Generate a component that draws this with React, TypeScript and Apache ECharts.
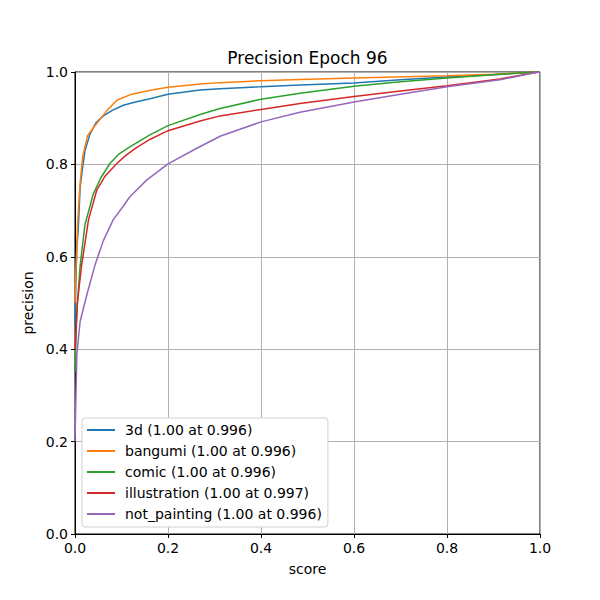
import React, { useEffect, useRef } from "react";
import * as echarts from "echarts";

const FONT = "DejaVu Sans";

const seriesNames = [
  "3d (1.00 at 0.996)",
  "bangumi (1.00 at 0.996)",
  "comic (1.00 at 0.996)",
  "illustration (1.00 at 0.997)",
  "not_painting (1.00 at 0.996)",
];
const colors = ["#1f77b4", "#ff7f0e", "#2ca02c", "#d62728", "#9467bd"];

const x3d = [0, 0.002, 0.004, 0.007, 0.011, 0.016, 0.0215, 0.032, 0.045, 0.061, 0.08, 0.104, 0.13, 0.161, 0.2, 0.269, 0.312, 0.4, 0.484, 0.6, 0.7, 0.8, 0.9, 0.996, 1];
const y3d = [0.45, 0.55, 0.62, 0.66, 0.75, 0.79, 0.83, 0.865, 0.89, 0.905, 0.917, 0.928, 0.935, 0.942, 0.952, 0.961, 0.964, 0.968, 0.972, 0.976, 0.983, 0.989, 0.994, 1.0, 1.0];

const xBangumi = [0, 0.002, 0.006, 0.011, 0.0165, 0.027, 0.04, 0.054, 0.07, 0.09, 0.122, 0.16, 0.2, 0.269, 0.312, 0.4, 0.484, 0.6, 0.8, 0.9, 0.996, 1];
const yBangumi = [0.5, 0.57, 0.68, 0.76, 0.817, 0.862, 0.88, 0.898, 0.918, 0.939, 0.952, 0.96, 0.967, 0.974, 0.977, 0.981, 0.984, 0.987, 0.992, 0.995, 1, 1];

const xComic = [0, 0.004, 0.011, 0.0215, 0.039, 0.055, 0.075, 0.095, 0.118, 0.161, 0.2, 0.269, 0.312, 0.4, 0.484, 0.6, 0.7, 0.8, 0.914, 0.996, 1];
const yComic = [0.35, 0.48, 0.58, 0.67, 0.735, 0.77, 0.802, 0.823, 0.838, 0.864, 0.884, 0.908, 0.921, 0.941, 0.954, 0.969, 0.979, 0.987, 0.995, 1, 1];

const xIllustration = [0, 0.005, 0.014, 0.029, 0.047, 0.065, 0.09, 0.11, 0.133, 0.161, 0.2, 0.269, 0.312, 0.4, 0.484, 0.6, 0.7, 0.8, 0.914, 0.997, 1];
const yIllustration = [0.4, 0.5, 0.58, 0.68, 0.745, 0.775, 0.802, 0.82, 0.837, 0.854, 0.873, 0.894, 0.905, 0.919, 0.932, 0.947, 0.959, 0.97, 0.985, 1, 1];

const xNotPainting = [0, 0.002, 0.004, 0.011, 0.026, 0.043, 0.061, 0.082, 0.104, 0.118, 0.154, 0.2, 0.262, 0.312, 0.4, 0.484, 0.6, 0.7, 0.8, 0.914, 0.996, 1];
const yNotPainting = [0.2, 0.3, 0.39, 0.46, 0.52, 0.582, 0.635, 0.68, 0.71, 0.73, 0.766, 0.801, 0.835, 0.861, 0.892, 0.913, 0.935, 0.952, 0.968, 0.983, 1, 1];

const xs = [x3d, xBangumi, xComic, xIllustration, xNotPainting];
const ys = [y3d, yBangumi, yComic, yIllustration, yNotPainting];

export default function App() {
  const ref = useRef<HTMLDivElement>(null);
  useEffect(() => {
    if (!ref.current) return;
    const chart = echarts.init(ref.current, null, { renderer: "svg" });
    const series = seriesNames.map((name, i) => ({
      name,
      type: "line",
      data: xs[i].map((x, j) => [x, ys[i][j]]),
      showSymbol: false,
      symbol: "none",
      lineStyle: { color: colors[i], width: 1.5 },
      itemStyle: { color: colors[i] },
      clip: true,
    }));
    const axisCommon = {
      type: "value",
      min: 0,
      max: 1,
      interval: 0.2,
      axisLine: { show: true, lineStyle: { color: "#000", width: 1 } },
      axisTick: { show: true, inside: false, length: 4, lineStyle: { color: "#000", width: 1 } },
      axisLabel: {
        color: "#000",
        fontSize: 14,
        fontFamily: FONT,
        margin: 7,
        formatter: (v: number) => v.toFixed(1),
      },
      splitLine: { show: true, lineStyle: { color: "#b0b0b0", width: 1 } },
      nameTextStyle: { color: "#000", fontSize: 14, fontFamily: FONT },
      nameLocation: "middle",
    };
    chart.setOption({
      animation: false,
      backgroundColor: "#fff",
      grid: {
        left: 75,
        right: 60,
        top: 72,
        bottom: 66,
        show: true,
        borderColor: "#000",
        borderWidth: 1,
        backgroundColor: "transparent",
      },
      xAxis: { ...axisCommon, name: "score", nameGap: 28 },
      yAxis: { ...axisCommon, name: "precision", nameGap: 37 },
      legend: {
        orient: "vertical",
        left: 82,
        top: 418,
        padding: [5, 6, 6, 5],
        itemGap: 7,
        itemWidth: 28,
        itemHeight: 2,
        icon: "rect",
        backgroundColor: "#fff",
        borderColor: "#d0d0d0",
        borderWidth: 1,
        borderRadius: 3,
        textStyle: {
          color: "#000",
          fontSize: 14,
          fontFamily: FONT,
          lineHeight: 14,
          padding: [0, 0, 0, 5],
        },
        data: seriesNames.map((n, i) => ({ name: n, itemStyle: { color: colors[i] } })),
      },
      graphic: [
        {
          type: "text",
          x: 307.5,
          y: 58,
          style: {
            text: "Precision Epoch 96",
            align: "center",
            verticalAlign: "middle",
            fontSize: 17,
            fontFamily: FONT,
            fill: "#000",
          },
        },
      ],
      series,
    });
    return () => chart.dispose();
  }, []);
  return (
    <div
      ref={ref}
      style={{ position: "fixed", left: 0, top: 0, width: 600, height: 600 }}
    />
  );
}
